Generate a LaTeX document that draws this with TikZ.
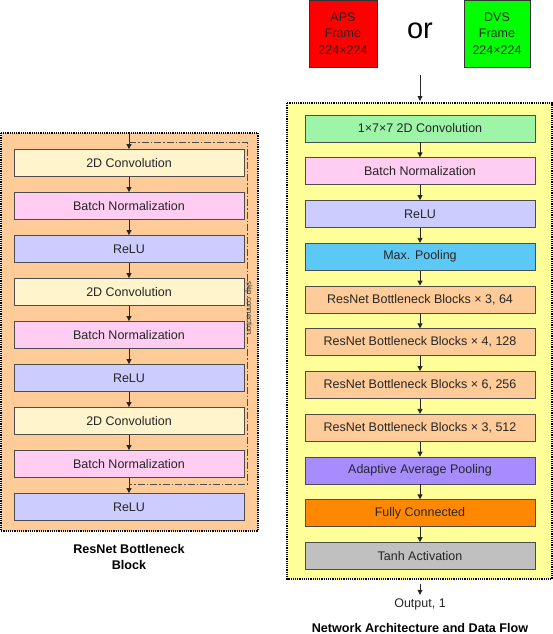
\documentclass[tikz,border=0pt]{standalone}
\usepackage{fontspec}
\setmainfont{Liberation Sans}
\usetikzlibrary{arrows.meta}

\definecolor{convcol}{HTML}{FFF4CC}
\definecolor{bncol}{HTML}{FFCCF2}
\definecolor{relucol}{HTML}{CCCCFF}
\definecolor{peach}{HTML}{FFCC99}
\definecolor{stemcol}{HTML}{9EF5A8}
\definecolor{poolcol}{HTML}{5CC8F5}
\definecolor{avgcol}{HTML}{A68CFF}
\definecolor{fccol}{HTML}{FF8800}
\definecolor{tanhcol}{HTML}{C0C0C0}
\definecolor{panelcol}{HTML}{FFFF99}

\tikzset{
    layer/.style={draw=black!70, line width=0.8pt, minimum width=230pt, minimum height=27pt,
                  inner sep=0pt, font=\fontsize{12.5}{14}\selectfont, text=black!85},
    panel/.style={draw=black, line width=1.2pt, densely dotted},
    flow/.style={-{Triangle[length=5pt,width=5pt]}, line width=0.8pt, black!85},
    skipline/.style={draw=black!70, line width=0.8pt, dash pattern=on 7pt off 2pt on 1.5pt off 2pt},
    caption/.style={font=\bfseries\fontsize{12.6}{16}\selectfont, align=center}
}

\begin{document}
\begin{tikzpicture}[x=1pt, y=-1pt]
    \useasboundingbox (0,0) rectangle (553,634);

    % bottleneck block
    \draw[panel, fill=peach] (1,133) rectangle (258,531);
    \foreach \txt/\col [count=\i] in {2D Convolution/convcol, Batch Normalization/bncol, ReLU/relucol,
            2D Convolution/convcol, Batch Normalization/bncol, ReLU/relucol,
            2D Convolution/convcol, Batch Normalization/bncol, ReLU/relucol}
        \node[layer, fill=\col] (b\i) at (129, {163+43*(\i-1)}) {\txt};
    \coordinate (bin) at (129,133);
    \draw[flow] (bin) -- (b1);
    \foreach \i [evaluate=\i as \j using int(\i+1)] in {1,...,8}
        \draw[flow] (b\i) -- (b\j);
    \coordinate (skipA) at (129,142);
    \coordinate (skipB) at (129,484);
    \draw[skipline] (skipA) -| (247,484) -- (skipB);
    \node[rotate=-90, font=\fontsize{7.8}{8}\selectfont, text=black!80] (skiplabel) at (249,308) {skip connection};
    \node[caption] (blocktitle) at (129,557) {ResNet Bottleneck\\Block};

    % input frames
    \node[draw=black!80, line width=0.8pt, fill=red, minimum width=68pt, minimum height=67pt, align=center,
          font=\fontsize{12.5}{16.7}\selectfont, text=black!85] (aps) at (343,33.5) {APS\\Frame\\224×224};
    \node[draw=black!80, line width=0.8pt, fill=green, minimum width=66pt, minimum height=67pt, align=center,
          font=\fontsize{12.5}{16.7}\selectfont, text=black!85] (dvs) at (497,33.5) {DVS\\Frame\\224×224};
    \node[font=\fontsize{29}{30}\selectfont] (or) at (420,31) {or};

    % network
    \draw[panel, fill=panelcol] (287,103) rectangle (552,579);
    \foreach \txt/\col [count=\i] in {1×7×7 2D Convolution/stemcol, Batch Normalization/bncol, ReLU/relucol,
            Max. Pooling/poolcol, {ResNet Bottleneck Blocks × 3, 64}/peach, {ResNet Bottleneck Blocks × 4, 128}/peach,
            {ResNet Bottleneck Blocks × 6, 256}/peach, {ResNet Bottleneck Blocks × 3, 512}/peach,
            Adaptive Average Pooling/avgcol, Fully Connected/fccol, Tanh Activation/tanhcol}
        \node[layer, fill=\col] (n\i) at (420, {128.5+42.75*(\i-1)}) {\txt};
    \foreach \i [evaluate=\i as \j using int(\i+1)] in {1,...,10}
        \draw[flow] (n\i) -- (n\j);
    \coordinate (nin) at (420,75);
    \coordinate (nintop) at (420,101);
    \draw[flow] (nin) -- (nintop);
    \coordinate (nout) at (420,584);
    \node[font=\fontsize{12.5}{14}\selectfont, text=black!85] (output) at (420,604) {Output, 1};
    \draw[flow] (nout) -- (output);
    \node[caption] (nettitle) at (420,628) {Network Architecture and Data Flow};
\end{tikzpicture}
\end{document}
